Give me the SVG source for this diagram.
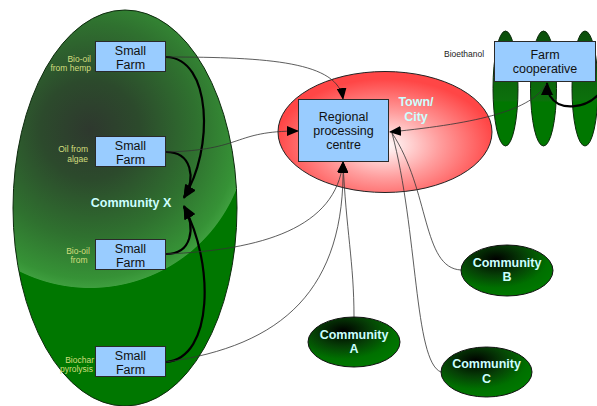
<svg xmlns="http://www.w3.org/2000/svg" width="597" height="406" viewBox="0 0 597 406">
  <defs>
    <style>
      .box { fill: #99ccff; stroke: #2a2a2a; stroke-width: 1; }
      .boxtxt { font-family: "Liberation Sans", Arial, sans-serif; font-size: 12.5px; fill: #111; text-anchor: middle; }
      .comtxt { font-family: "Liberation Sans", Arial, sans-serif; font-size: 12.5px; font-weight: bold; fill: #ccffff; text-anchor: middle; }
      .side { font-family: "Liberation Sans", Arial, sans-serif; font-size: 8.5px; fill: #d2de7e; }
      .thin { fill: none; stroke: #333; stroke-width: 0.8; }
      .thick { fill: none; stroke: #000; stroke-width: 2.2; }
      .comm { fill: url(#commGrad); stroke: #111; stroke-width: 1; }
      .field { fill: url(#fieldGrad); stroke: #0a2a0a; stroke-width: 1; }
    </style>
    <radialGradient id="xGrad" gradientUnits="userSpaceOnUse" cx="90" cy="130" r="165">
      <stop offset="0" stop-color="#2e382e"/>
      <stop offset="0.3" stop-color="#2c4a2c"/>
      <stop offset="0.65" stop-color="#2f712f"/>
      <stop offset="0.9" stop-color="#369236"/>
      <stop offset="0.955" stop-color="#3e9e3e"/>
      <stop offset="0.96" stop-color="#007700"/>
      <stop offset="1" stop-color="#007700"/>
    </radialGradient>
    <radialGradient id="townGrad" gradientUnits="userSpaceOnUse" cx="385" cy="145" r="110" gradientTransform="translate(385 145) scale(1 0.6) translate(-385 -145)">
      <stop offset="0" stop-color="#ffffff"/>
      <stop offset="0.5" stop-color="#ff9d9d"/>
      <stop offset="1" stop-color="#ff4646"/>
    </radialGradient>
    <radialGradient id="commGrad" cx="0.38" cy="0.28" r="0.7">
      <stop offset="0" stop-color="#000000"/>
      <stop offset="0.45" stop-color="#064006"/>
      <stop offset="0.8" stop-color="#007000"/>
      <stop offset="1" stop-color="#007700"/>
    </radialGradient>
    <linearGradient id="fieldGrad" x1="0" y1="0" x2="0" y2="1">
      <stop offset="0" stop-color="#0b4f0b"/>
      <stop offset="0.6" stop-color="#0c700c"/>
      <stop offset="0.62" stop-color="#007700"/>
      <stop offset="1" stop-color="#007700"/>
    </linearGradient>
    <marker id="headThick" markerUnits="userSpaceOnUse" markerWidth="14" markerHeight="12" refX="12" refY="6" orient="auto">
      <path d="M0,0 L13,6 L0,12 Z" fill="#000"/>
    </marker>
    <marker id="headThin" markerUnits="userSpaceOnUse" markerWidth="12" markerHeight="10" refX="11" refY="5" orient="auto">
      <path d="M0,0 L12,5 L0,10 Z" fill="#000"/>
    </marker>
  </defs>

  <!-- Community X region -->
  <g id="community-x">
    <ellipse cx="125" cy="208" rx="112" ry="198" fill="url(#xGrad)" stroke="#0d2a0d" stroke-width="1"/>
    <text class="comtxt" x="131" y="207">Community X</text>
  </g>

  <!-- Town / City -->
  <g id="town-city">
    <ellipse cx="385" cy="132" rx="107" ry="60.5" fill="url(#townGrad)" stroke="#222" stroke-width="1"/>
    <text class="comtxt" x="416" y="106" text-anchor="start">Town/</text>
    <text class="comtxt" x="416" y="121" text-anchor="start">City</text>
  </g>

  <!-- Fields behind the farm cooperative -->
  <g id="coop-fields">
    <ellipse class="field" cx="505.5" cy="88.5" rx="12.5" ry="57.5"/>
    <ellipse class="field" cx="543.5" cy="88.5" rx="13" ry="57.5"/>
    <ellipse class="field" cx="585" cy="88.5" rx="13" ry="57.5"/>
  </g>

  <!-- Outlying communities -->
  <g id="community-a">
    <ellipse class="comm" cx="354" cy="342" rx="46" ry="25"/>
    <text class="comtxt" x="354" y="339">Community</text>
    <text class="comtxt" x="354" y="353">A</text>
  </g>
  <g id="community-b">
    <ellipse class="comm" cx="507" cy="270.5" rx="46" ry="25.5"/>
    <text class="comtxt" x="507" y="267">Community</text>
    <text class="comtxt" x="507" y="281">B</text>
  </g>
  <g id="community-c">
    <ellipse class="comm" cx="486.5" cy="372" rx="45.5" ry="25"/>
    <text class="comtxt" x="486.5" y="368">Community</text>
    <text class="comtxt" x="486.5" y="383">C</text>
  </g>

  <!-- Connectors -->
  <g id="connectors">
    <!-- local links inside Community X -->
    <path class="thick" d="M166,57 C212,58 214,150 184,197" marker-end="url(#headThick)"/>
    <path class="thick" d="M166,152 C192,152 196,178 184,198" marker-end="url(#headThick)"/>
    <path class="thick" d="M166,254 C192,254 196,228 184,206" marker-end="url(#headThick)"/>
    <path class="thick" d="M166,362 C214,358 214,262 184,207" marker-end="url(#headThick)"/>
    <!-- cooperative loop -->
    <path class="thick" d="M598,95 C585,108 560,112 550,96 C548,92 547,88 547,83" marker-end="url(#headThick)"/>
    <!-- farms to regional processing centre -->
    <path class="thin" d="M166,57 C270,57 338,62 343,99" marker-end="url(#headThin)"/>
    <path class="thin" d="M166,152 C245,150 232,131 298,131" marker-end="url(#headThin)"/>
    <path class="thin" d="M166,254 C262,250 336,228 343,162" marker-end="url(#headThin)"/>
    <path class="thin" d="M166,362 C282,346 346,290 343,162" marker-end="url(#headThin)"/>
    <!-- communities to regional processing centre -->
    <path class="thin" d="M354,317 C354,262 346,230 343,162" marker-end="url(#headThin)"/>
    <path class="thin" d="M461,270 C422,268 430,190 392,133"/>
    <path class="thin" d="M441,372 C414,362 418,230 392,133"/>
    <!-- cooperative to regional processing centre -->
    <path class="thin" d="M546,84 C532,110 480,123 390,132" marker-end="url(#headThin)"/>
  </g>

  <!-- Small farms -->
  <g id="farm-hemp">
    <rect class="box" x="95.5" y="41.5" width="70" height="30"/>
    <text class="boxtxt" x="130.5" y="54.5">Small</text>
    <text class="boxtxt" x="130.5" y="68.5">Farm</text>
    <text class="side" x="91" y="62" text-anchor="end">Bio-oil</text>
    <text class="side" x="91" y="71" text-anchor="end">from hemp</text>
  </g>
  <g id="farm-algae">
    <rect class="box" x="95.5" y="136.5" width="70" height="30"/>
    <text class="boxtxt" x="130.5" y="149.5">Small</text>
    <text class="boxtxt" x="130.5" y="163.5">Farm</text>
    <text class="side" x="88" y="152" text-anchor="end">Oil from</text>
    <text class="side" x="88" y="162" text-anchor="end">algae</text>
  </g>
  <g id="farm-biooil">
    <rect class="box" x="95.5" y="239.5" width="70" height="30"/>
    <text class="boxtxt" x="130.5" y="252.5">Small</text>
    <text class="boxtxt" x="130.5" y="266.5">Farm</text>
    <text class="side" x="78" y="254" text-anchor="middle">Bio-oil</text>
    <text class="side" x="79" y="263" text-anchor="middle">from</text>
  </g>
  <g id="farm-biochar">
    <rect class="box" x="95.5" y="346.5" width="70" height="30"/>
    <text class="boxtxt" x="130.5" y="359.5">Small</text>
    <text class="boxtxt" x="130.5" y="373.5">Farm</text>
    <text class="side" x="94" y="363" text-anchor="end">Biochar</text>
    <text class="side" x="93" y="372" text-anchor="end">pyrolysis</text>
  </g>

  <!-- Regional processing centre -->
  <g id="regional-centre">
    <rect class="box" x="298.5" y="99.5" width="90" height="62"/>
    <text class="boxtxt" x="343.5" y="121">Regional</text>
    <text class="boxtxt" x="343.5" y="135">processing</text>
    <text class="boxtxt" x="343.5" y="149">centre</text>
  </g>

  <!-- Farm cooperative -->
  <g id="farm-cooperative">
    <rect class="box" x="494.5" y="41.5" width="101" height="40"/>
    <text class="boxtxt" x="545" y="59">Farm</text>
    <text class="boxtxt" x="545" y="73">cooperative</text>
    <text x="444" y="57" font-family="Liberation Sans, Arial, sans-serif" font-size="8.5" fill="#222">Bioethanol</text>
  </g>
</svg>
